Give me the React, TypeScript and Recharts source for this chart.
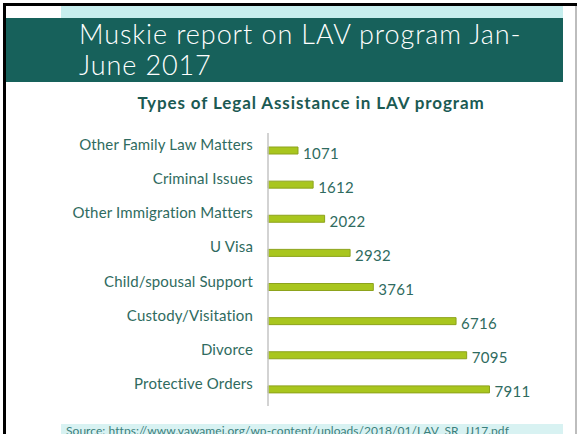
import React from "react";
import { BarChart, Bar, XAxis, YAxis, LabelList } from "recharts";

const categories = [
  "Other Family Law Matters",
  "Criminal Issues",
  "Other Immigration Matters",
  "U Visa",
  "Child/spousal Support",
  "Custody/Visitation",
  "Divorce",
  "Protective Orders",
];
const values = [1071, 1612, 2022, 2932, 3761, 6716, 7095, 7911];

const data = categories.map((c, i) => ({ name: c, value: values[i] }));

const FONT = "Lato, 'Open Sans', sans-serif";
const LABEL_COLOR = "#2f6b60";

const CategoryTick = (props: any) => {
  const { x, y, payload } = props;
  return (
    <text
      x={x}
      y={y}
      dy={-6}
      textAnchor="end"
      dominantBaseline="central"
      fill={LABEL_COLOR}
      fontSize={15}
      letterSpacing={0.15}
      fontFamily={FONT}
    >
      {payload.value}
    </text>
  );
};

const ValueLabel = (props: any) => {
  const { x, y, width, height, value } = props;
  return (
    <text
      x={x + width + 5}
      y={y + height / 2 + 2}
      dominantBaseline="central"
      fill={LABEL_COLOR}
      fontSize={15}
      letterSpacing={0.3}
      fontFamily={FONT}
    >
      {value}
    </text>
  );
};

export default function App() {
  return (
    <div
      style={{
        position: "absolute",
        left: 0,
        top: 0,
        width: 577,
        height: 434,
        background: "#ffffff",
        overflow: "hidden",
      }}
    >
      {/* frame */}
      <div style={{ position: "absolute", left: 3, top: 3, width: 574, height: 3, background: "#000" }} />
      <div style={{ position: "absolute", left: 3, top: 3, width: 3, height: 431, background: "#000" }} />
      <div style={{ position: "absolute", left: 575, top: 6, width: 2, height: 428, background: "#bdbdbd" }} />
      {/* top cyan strip */}
      <div style={{ position: "absolute", left: 61, top: 6, width: 502, height: 12, background: "#c6eeee" }} />
      {/* teal band */}
      <div style={{ position: "absolute", left: 6, top: 18, width: 557, height: 64, background: "#17615b" }} />
      <div
        style={{
          position: "absolute",
          left: 79,
          top: 18,
          width: 480,
          color: "#ffffff",
          fontFamily: FONT,
          fontWeight: 300,
          fontSize: 27,
          letterSpacing: 0.9,
          lineHeight: "31px",
          whiteSpace: "nowrap",
        }}
      >
        Muskie report on LAV program Jan-
        <br />
        June 2017
      </div>
      {/* chart title */}
      <div
        style={{
          position: "absolute",
          left: 0,
          width: 622,
          top: 92,
          textAlign: "center",
          color: "#1b5a53",
          fontFamily: FONT,
          fontWeight: 700,
          fontSize: 17,
          letterSpacing: 0.9,
          lineHeight: "22px",
          whiteSpace: "nowrap",
        }}
      >
        Types of Legal Assistance in LAV program
      </div>
      {/* source box */}
      <div
        style={{
          position: "absolute",
          left: 61,
          top: 424,
          width: 502,
          height: 14,
          background: "#d8f2f2",
          color: "#3b7f7c",
          fontFamily: FONT,
          fontSize: 12,
          letterSpacing: 0.05,
          lineHeight: "13px",
          paddingLeft: 5,
          boxSizing: "border-box",
          whiteSpace: "nowrap",
        }}
      >
        Source: https://www.vawamei.org/wp-content/uploads/2018/01/LAV_SR_JJ17.pdf
      </div>
      <div style={{ position: "absolute", left: 0, top: 0 }}>
        <BarChart
          width={577}
          height={434}
          layout="vertical"
          data={data}
          margin={{ top: 133, right: 85, bottom: 28, left: 0 }}
          barCategoryGap={0}
        >
          <XAxis type="number" domain={[0, 8000]} hide />
          <YAxis
            type="category"
            dataKey="name"
            width={268}
            axisLine={{ stroke: "#c4c4c4", strokeWidth: 1.5 }}
            tickLine={false}
            tick={<CategoryTick />}
            tickMargin={9}
            interval={0}
          />
          <Bar
            dataKey="value"
            fill="#a9c61e"
            stroke="#8da31c"
            strokeWidth={1}
            barSize={7}
            isAnimationActive={false}
          >
            <LabelList dataKey="value" content={<ValueLabel />} />
          </Bar>
        </BarChart>
      </div>
    </div>
  );
}
